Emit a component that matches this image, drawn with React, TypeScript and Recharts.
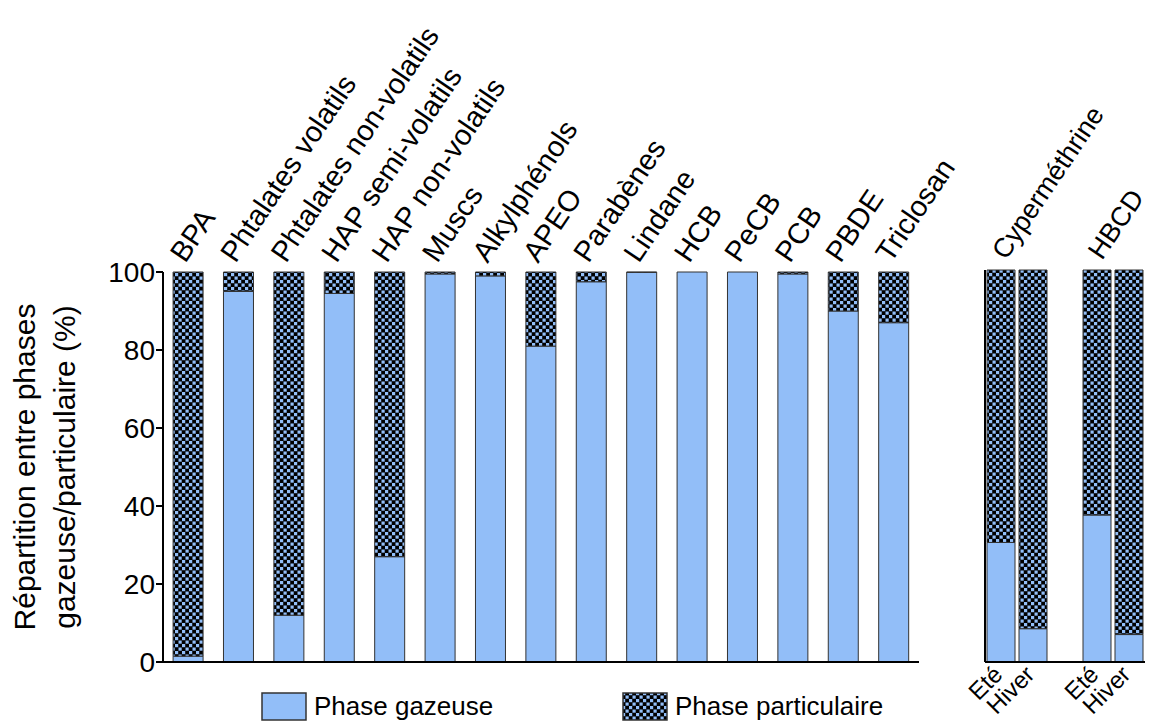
import React from 'react';
import { BarChart, Bar, XAxis, YAxis } from 'recharts';

// main panel
const compounds = [
  'BPA', 'Phtalates volatils', 'Phtalates non-volatils', 'HAP semi-volatils', 'HAP non-volatils',
  'Muscs', 'Alkylphénols', 'APEO', 'Parabènes', 'Lindane', 'HCB', 'PeCB', 'PCB', 'PBDE', 'Triclosan',
];
const gasPhase = [1.5, 95, 12, 94.5, 27, 99.5, 99, 81, 97.5, 99.9, 100, 100, 99.5, 90, 87];
const particlePhase = [98.5, 5, 88, 5.5, 73, 0.5, 1, 19, 2.5, 0.1, 0, 0, 0.5, 10, 13];

// seasonal panel (blank slot between the two compounds)
const seasonIds = ['cyp-ete', 'cyp-hiver', 'gap', 'hbcd-ete', 'hbcd-hiver'];
const seasonLabels = ['Eté', 'Hiver', '', 'Eté', 'Hiver'];
const seasonGroups = ['Cyperméthrine', '', '', 'HBCD', ''];
const seasonGas = [30.5, 8.5, null, 37.5, 7];
const seasonParticle = [69.5, 91.5, null, 62.5, 93];

const yTicks = [0, 20, 40, 60, 80, 100];

const mainData = compounds.map((name, i) => ({ name, gas: gasPhase[i], particle: particlePhase[i] }));
const seasonData = seasonIds.map((id, i) => ({
  id,
  label: seasonLabels[i],
  group: seasonGroups[i],
  gas: seasonGas[i],
  particle: seasonParticle[i],
}));

const FONT = 'Liberation Sans, Arial, sans-serif';
const GAS = '#92bef8';
const BAR_STROKE = '#333';
const ANGLE = -56;

const CheckerDefs = ({ id }: { id: string }) => (
  <defs>
    <pattern id={id} width="7" height="7" patternUnits="userSpaceOnUse">
      <rect width="7" height="7" fill="#000" />
      <rect x="0" y="0" width="3.2" height="3.2" fill={GAS} />
      <rect x="3.5" y="3.5" width="3.2" height="3.2" fill={GAS} />
    </pattern>
  </defs>
);

const TopTick = (props: any) => {
  const { x, payload } = props;
  const tx = x - 3;
  const ty = 264;
  return (
    <text x={tx} y={ty} transform={`rotate(${ANGLE}, ${tx}, ${ty})`} textAnchor="start"
      fontSize={29} fontFamily={FONT} fill="#000">
      {payload.value}
    </text>
  );
};

const GroupTick = (props: any) => {
  const { x, index } = props;
  const label = seasonGroups[index];
  if (!label) return null;
  const tx = x + 16 - 11;
  const ty = 261;
  return (
    <text x={tx} y={ty} transform={`rotate(${ANGLE}, ${tx}, ${ty})`} textAnchor="start"
      fontSize={27} fontFamily={FONT} fill="#000">
      {label}
    </text>
  );
};

const SeasonTick = (props: any) => {
  const { x, index } = props;
  const label = seasonLabels[index];
  if (!label) return null;
  const tx = x + 3;
  const ty = 676;
  return (
    <text x={tx} y={ty} transform={`rotate(-45, ${tx}, ${ty})`} textAnchor="end"
      fontSize={24} fontFamily={FONT} fill="#000">
      {label}
    </text>
  );
};

const Swatch = ({ checker }: { checker?: boolean }) => (
  <svg width={46} height={29} style={{ display: 'block' }}>
    {checker && <CheckerDefs id="legendChecker" />}
    <rect x={1} y={1} width={44} height={27} fill={checker ? 'url(#legendChecker)' : GAS} stroke={BAR_STROKE} strokeWidth={1.5} />
  </svg>
);

const App: React.FC = () => {
  return (
    <div style={{ position: 'absolute', left: 0, top: 0, width: 1149, height: 724, background: '#fff', fontFamily: FONT, overflow: 'hidden' }}>
      <div style={{ position: 'absolute', left: 0, top: 0 }}>
        <BarChart width={1040} height={724} data={mainData} barCategoryGap="20%"
          margin={{ top: 22, right: 121, bottom: 60, left: 0 }}>
          <CheckerDefs id="checkerMain" />
          <XAxis xAxisId="top" orientation="top" dataKey="name" height={250} interval={0}
            axisLine={false} tickLine={false} tick={<TopTick />} />
          <XAxis xAxisId="bottom" dataKey="name" height={2} tick={false} tickLine={false}
            axisLine={{ stroke: '#000', strokeWidth: 2 }} />
          <YAxis width={163} domain={[0, 100]} ticks={yTicks} interval={0}
            axisLine={{ stroke: '#000', strokeWidth: 2 }} tickLine={{ stroke: '#000', strokeWidth: 2 }}
            tickSize={7} tickMargin={1} tick={{ fill: '#000', fontSize: 28, fontFamily: FONT }} />
          <Bar xAxisId="bottom" dataKey="gas" stackId="a" fill={GAS} stroke={BAR_STROKE} strokeWidth={1} isAnimationActive={false} />
          <Bar xAxisId="bottom" dataKey="particle" stackId="a" fill="url(#checkerMain)" stroke={BAR_STROKE} strokeWidth={1} isAnimationActive={false} />
        </BarChart>
      </div>

      <div style={{ position: 'absolute', left: 940, top: 0 }}>
        <BarChart width={209} height={724} data={seasonData} barSize={28}
          margin={{ top: 20, right: 4, bottom: 20, left: 0 }}>
          <CheckerDefs id="checkerSeason" />
          <XAxis xAxisId="top" orientation="top" dataKey="id" height={250} interval={0}
            axisLine={false} tickLine={false} tick={<GroupTick />} />
          <XAxis xAxisId="bottom" dataKey="id" height={42} interval={0} tickLine={false}
            axisLine={{ stroke: '#000', strokeWidth: 2 }} tick={<SeasonTick />} />
          <YAxis width={45} domain={[0, 100]} ticks={yTicks} tick={false} tickLine={false}
            axisLine={{ stroke: '#000', strokeWidth: 2 }} />
          <Bar xAxisId="bottom" dataKey="gas" stackId="a" fill={GAS} stroke={BAR_STROKE} strokeWidth={1} isAnimationActive={false} />
          <Bar xAxisId="bottom" dataKey="particle" stackId="a" fill="url(#checkerSeason)" stroke={BAR_STROKE} strokeWidth={1} isAnimationActive={false} />
        </BarChart>
      </div>

      {/* y axis title, two lines */}
      <div style={{
        position: 'absolute', left: 45, top: 467, transform: 'translate(-50%, -50%) rotate(-90deg)',
        whiteSpace: 'nowrap', fontSize: 30, lineHeight: '40px', textAlign: 'center', color: '#000',
      }}>
        Répartition entre phases<br />gazeuse/particulaire (%)
      </div>

      {/* legend */}
      <div style={{ position: 'absolute', left: 261, top: 691, display: 'flex', alignItems: 'center', fontSize: 26, color: '#000' }}>
        <Swatch />
        <span style={{ marginLeft: 7 }}>Phase gazeuse</span>
      </div>
      <div style={{ position: 'absolute', left: 622, top: 691, display: 'flex', alignItems: 'center', fontSize: 26, color: '#000' }}>
        <Swatch checker />
        <span style={{ marginLeft: 7 }}>Phase particulaire</span>
      </div>
    </div>
  );
};

export default App;
